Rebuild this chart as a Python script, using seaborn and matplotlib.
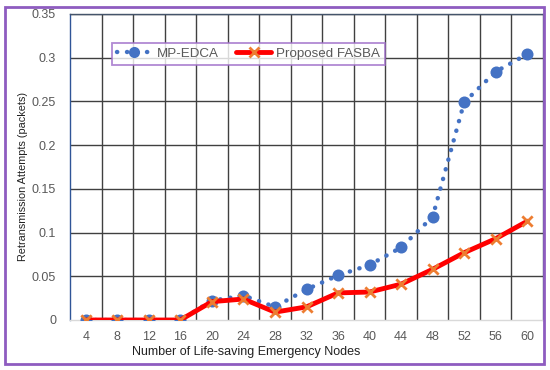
import numpy as np
import pandas as pd
import matplotlib
matplotlib.use("Agg")
import matplotlib.pyplot as plt
import seaborn as sns
from matplotlib.lines import Line2D
from matplotlib.patches import Rectangle

# Data
nodes = [4, 8, 12, 16, 20, 24, 28, 32, 36, 40, 44, 48, 52, 56, 60]
mp_edca = [0, 0, 0, 0, 0.022, 0.028, 0.015, 0.035, 0.051, 0.063, 0.083, 0.118, 0.249, 0.284, 0.304]
fasba = [0, 0, 0, 0, 0.021, 0.024, 0.009, 0.015, 0.031, 0.032, 0.041, 0.058, 0.077, 0.093, 0.113]
y_ticks = [0, 0.05, 0.1, 0.15, 0.2, 0.25, 0.3, 0.35]

df = pd.DataFrame({"pos": np.arange(len(nodes)), "MP-EDCA": mp_edca, "FASBA": fasba})

sns.set_style("white")
plt.rcParams["font.family"] = ["Liberation Sans", "DejaVu Sans"]

fig = plt.figure(figsize=(5.5, 3.7), dpi=100)
ax = fig.add_axes([70 / 550, 1 - 320 / 370, 473 / 550, 306 / 370])

blue = "#4472C4"
red = "#FF0000"
orange = "#ED7D31"

# MP-EDCA: round dotted line with big circles
sns.lineplot(data=df, x="pos", y="MP-EDCA", ax=ax, color=blue, linewidth=3.2,
             linestyle=(0, (0.05, 2.2)), dash_capstyle="round", zorder=3)
sns.scatterplot(data=df, x="pos", y="MP-EDCA", ax=ax, color=blue, s=75,
                edgecolor=blue, linewidth=0, zorder=4)
# Proposed FASBA: thick red line with orange crosses
sns.lineplot(data=df, x="pos", y="FASBA", ax=ax, color=red, linewidth=3.5, zorder=5)
ax.scatter(df["pos"], df["FASBA"], marker="x", s=55, color=orange, linewidths=2, zorder=6)

ax.set_xlim(-0.5, len(nodes) - 0.5)
ax.set_ylim(0, 0.35)
ax.set_xticks(np.arange(len(nodes)))
ax.set_xticklabels([str(n) for n in nodes])
ax.set_yticks(y_ticks)
ax.set_yticklabels(["{:g}".format(v) for v in y_ticks])

ax.grid(False)
for v in y_ticks[1:]:
    ax.axhline(v, color="#404040", linewidth=1, zorder=1)
for xv in np.arange(1, len(nodes)) - 0.5:
    ax.axvline(xv, color="#404040", linewidth=1, zorder=1)

ax.tick_params(axis="both", which="both", length=0, labelsize=9, labelcolor="#595959")
ax.tick_params(axis="x", pad=8)
ax.tick_params(axis="y", pad=10)

ax.set_xlabel("Number of Life-saving Emergency Nodes", fontsize=9, color="#222222")
ax.set_ylabel("Retransmission Attempts (packets)", fontsize=7.8, color="#222222")
ax.xaxis.set_label_coords(0.372, -0.085)
ax.yaxis.set_label_coords(-0.088, 0.469)

ax.spines["left"].set_color("#2F5597")
ax.spines["top"].set_color("#44546A")
ax.spines["right"].set_color("#44546A")
ax.spines["bottom"].set_color("#D9D9D9")
for s in ax.spines.values():
    s.set_linewidth(1)

handles = [
    Line2D([0], [0], color=blue, linewidth=3.2, linestyle=(0, (0.05, 2.2)),
           dash_capstyle="round", marker="o", markersize=8, markeredgewidth=0),
    Line2D([0], [0], color=red, linewidth=3.5, marker="x", markersize=7,
           markeredgecolor=orange, markeredgewidth=2),
]
leg = fig.legend(handles, ["MP-EDCA", "Proposed FASBA"], loc="center",
                 bbox_to_anchor=(248.5 / 550, 1 - 54 / 370), ncol=2, fontsize=9.6,
                 frameon=True, fancybox=False, handlelength=2.6, handletextpad=0.4,
                 columnspacing=1.3, borderpad=0.35, labelcolor="#595959")
leg.get_frame().set_edgecolor("#9E6CC8")
leg.get_frame().set_linewidth(1.3)
leg.set_zorder(10)

fig.patches.append(Rectangle((5 / 550, 1 - 364 / 370), 539 / 550, 357 / 370,
                             transform=fig.transFigure, fill=False,
                             edgecolor="#8E5CC0", linewidth=2))

fig.savefig("out.png", dpi=100)
